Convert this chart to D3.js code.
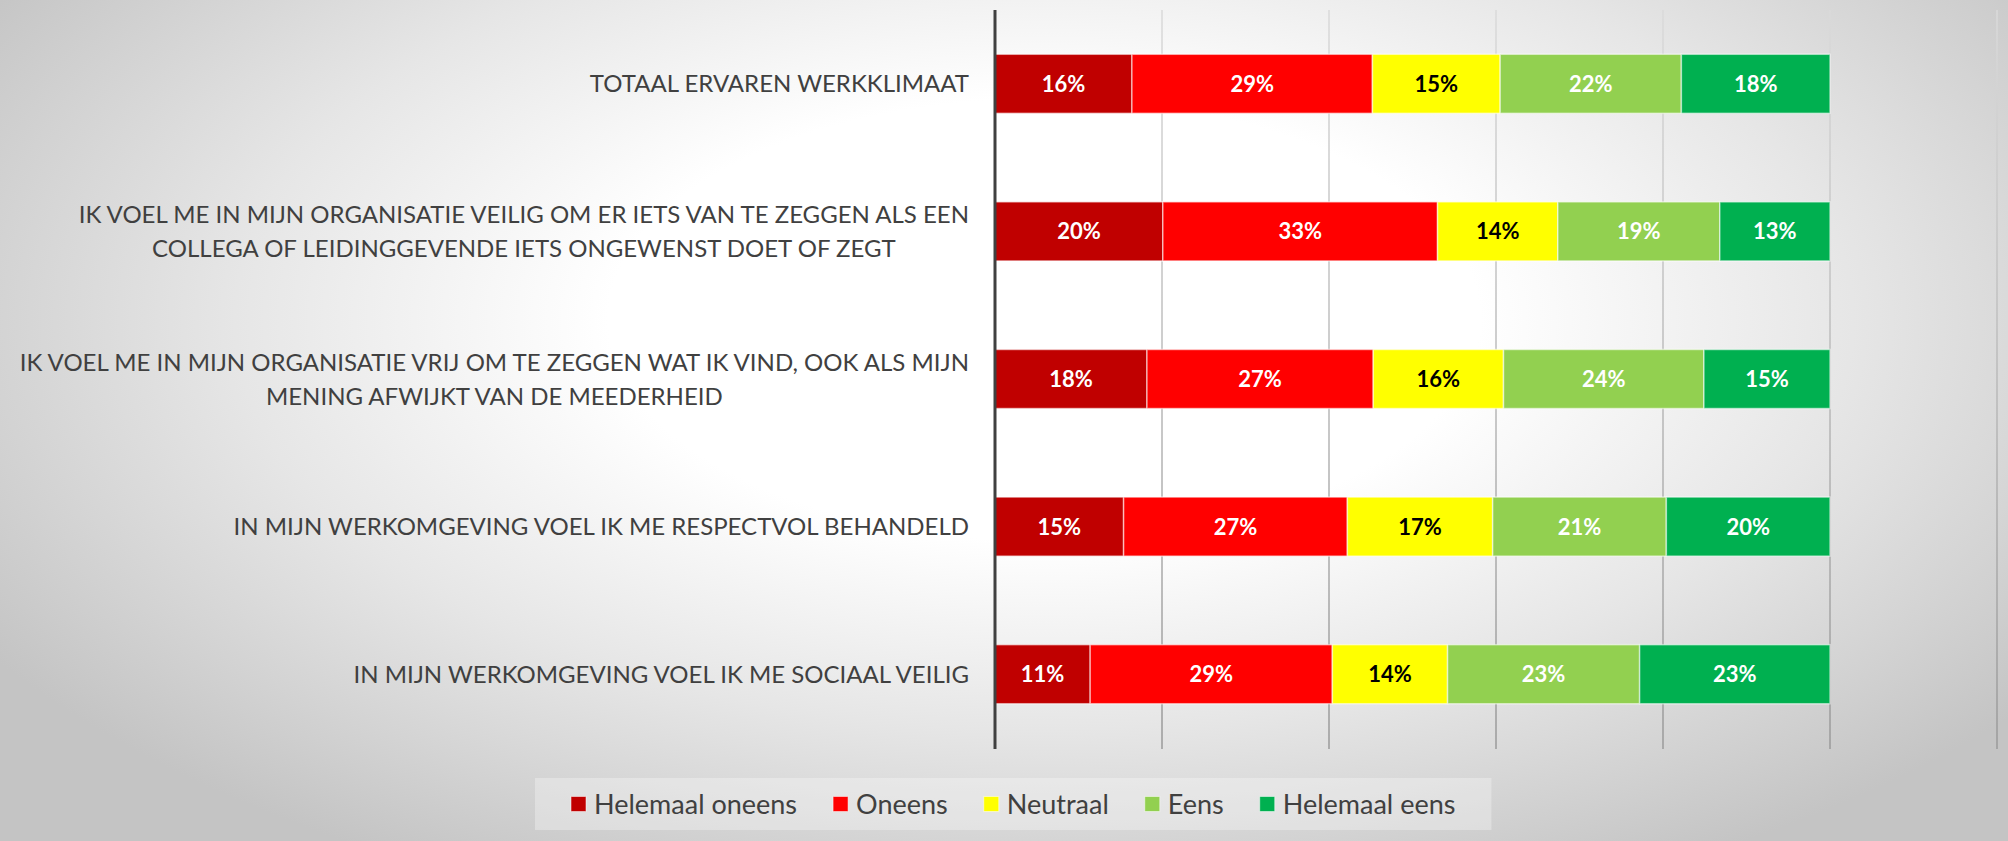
<!DOCTYPE html>
<html>
<head>
<meta charset="utf-8">
<script src="https://cdn.jsdelivr.net/npm/d3@7/dist/d3.min.js"></script>
<style>
  html, body { margin: 0; padding: 0; }
  body {
    width: 2008px; height: 841px; overflow: hidden;
    background: radial-gradient(ellipse 62% 75% at 52% 38%, #ffffff 35%, #e6e6e6 65%, #c4c4c4 100%);
    font-family: Lato, "Open Sans", sans-serif;
  }
  svg { display: block; }
</style>
</head>
<body>
<svg id="chart" width="2008" height="841"></svg>
<script>
// categories, one entry per line of the label
var categories = [
	["TOTAAL ERVAREN WERKKLIMAAT"],
	["IK VOEL ME IN MIJN ORGANISATIE VEILIG OM ER IETS VAN TE ZEGGEN ALS EEN",
	 "COLLEGA OF LEIDINGGEVENDE IETS ONGEWENST DOET OF ZEGT"],
	["IK VOEL ME IN MIJN ORGANISATIE VRIJ OM TE ZEGGEN WAT IK VIND, OOK ALS MIJN",
	 "MENING AFWIJKT VAN DE MEEDERHEID"],
	["IN MIJN WERKOMGEVING VOEL IK ME RESPECTVOL BEHANDELD"],
	["IN MIJN WERKOMGEVING VOEL IK ME SOCIAAL VEILIG"]
];

var seriesNames = ["Helemaal oneens", "Oneens", "Neutraal", "Eens", "Helemaal eens"];

// percentages per category (same order as categories)
var helemaalOneens = [16.4, 20.1, 18.2, 15.4, 11.4];
var oneens         = [28.8, 32.9, 27.1, 26.8, 29.0];
var neutraal       = [15.3, 14.4, 15.6, 17.4, 13.8];
var eens           = [21.7, 19.4, 24.0, 20.8, 23.0];
var helemaalEens   = [17.8, 13.2, 15.1, 19.6, 22.8];

var xTicks = [0, 20, 40, 60, 80, 100, 120];

var seriesColors = ["#C00000", "#FF0000", "#FFFF00", "#92D050", "#00B050"];
var labelColors = ["#ffffff", "#ffffff", "#000000", "#ffffff", "#ffffff"];

var seriesValues = [helemaalOneens, oneens, neutraal, eens, helemaalEens];

var rows = categories.map(function(c, i) {
	var r = { idx: i };
	seriesNames.forEach(function(s, j) { r[s] = seriesValues[j][i]; });
	return r;
});

var svg = d3.select("#chart");

var x = d3.scaleLinear()
	.domain([0, 120])
	.range([995, 1997]);

var y = d3.scaleBand()
	.domain(d3.range(categories.length))
	.range([10, 748])
	.paddingInner(0.6)
	.paddingOuter(0.3);

// gradient for gridlines (lighter at the top)
var defs = svg.append("defs");
var gg = defs.append("linearGradient")
	.attr("id", "gridGrad")
	.attr("gradientUnits", "userSpaceOnUse")
	.attr("x1", 0).attr("y1", 10)
	.attr("x2", 0).attr("y2", 749);
gg.append("stop").attr("offset", "0%").attr("stop-color", "#dadada");
gg.append("stop").attr("offset", "100%").attr("stop-color", "#9a9a9a");

// Gridlines
svg.append("g")
	.attr("class", "grid")
	.selectAll("rect")
	.data(xTicks.slice(1))
	.enter()
	.append("rect")
	.attr("x", (d) => x(d) - 0.75)
	.attr("y", 10)
	.attr("width", 1.5)
	.attr("height", 739)
	.attr("fill", "url(#gridGrad)");

// Bars
var stack = d3.stack().keys(seriesNames);
var layers = stack(rows);

var layer = svg.append("g")
	.attr("class", "bars")
	.selectAll("g")
	.data(layers)
	.enter()
	.append("g")
	.attr("fill", (d, i) => seriesColors[i]);

layer.selectAll("rect")
	.data((d) => d)
	.enter()
	.append("rect")
	.attr("x", (d) => x(d[0]))
	.attr("y", (d) => y(d.data.idx))
	.attr("width", (d) => x(d[1]) - x(d[0]))
	.attr("height", y.bandwidth())
	.attr("stroke", "#ffffff")
	.attr("stroke-opacity", 0.55)
	.attr("stroke-width", 1.5);

// Value labels
layer.each(function(L, i) {
	d3.select(this).selectAll("text")
		.data(L)
		.enter()
		.append("text")
		.attr("x", (d) => (x(d[0]) + x(d[1])) / 2)
		.attr("y", (d) => y(d.data.idx) + y.bandwidth() / 2)
		.attr("text-anchor", "middle")
		.attr("dy", "0.36em")
		.attr("fill", labelColors[i])
		.style("font-size", "22px")
		.style("font-weight", "bold")
		.text((d) => Math.round(d[1] - d[0]) + "%");
});

// Axis line
svg.append("line")
	.attr("x1", x(0)).attr("x2", x(0))
	.attr("y1", 10).attr("y2", 749)
	.attr("stroke", "#404040")
	.attr("stroke-width", 3);

// Category labels, right-aligned block, lines centered within it
var labelRight = 969;
var lineH = 34;
var catG = svg.append("g").attr("class", "categories");

categories.forEach(function(lines, i) {
	var g = catG.append("g")
		.attr("transform", "translate(" + labelRight + "," + (y(i) + y.bandwidth() / 2) + ")");
	var texts = g.selectAll("text")
		.data(lines)
		.enter()
		.append("text")
		.attr("y", (d, k) => (k - (lines.length - 1) / 2) * lineH)
		.attr("dy", "0.36em")
		.attr("text-anchor", "middle")
		.attr("fill", "#404040")
		.style("font-size", "24px")
		.text((d) => d);
	var maxW = 0;
	texts.each(function() { maxW = Math.max(maxW, this.getComputedTextLength()); });
	texts.attr("x", -maxW / 2);
});

// Legend
var legendY = 804;
var legend = svg.append("g").attr("class", "legend");
var legendBg = legend.append("rect")
	.attr("fill", "#ffffff")
	.attr("fill-opacity", 0.3);

var items = legend.selectAll("g.item")
	.data(seriesNames)
	.enter()
	.append("g")
	.attr("class", "item");

items.append("rect")
	.attr("width", 15)
	.attr("height", 15)
	.attr("y", legendY - 7.5)
	.attr("fill", (d, i) => seriesColors[i])
	.attr("stroke", "#ffffff")
	.attr("stroke-opacity", 0.5);

items.append("text")
	.attr("dy", "0.36em")
	.attr("y", legendY)
	.attr("fill", "#404040")
	.style("font-size", "27px")
	.text((d) => d);

var cursor = 571;
items.each(function() {
	var it = d3.select(this);
	var t = it.select("text");
	var w = t.node().getComputedTextLength();
	it.select("rect").attr("x", cursor);
	t.attr("x", cursor + 23);
	cursor += 23 + w + 36;
});

legendBg
	.attr("x", 535)
	.attr("y", legendY - 26)
	.attr("width", cursor - 535)
	.attr("height", 52);
</script>
</body>
</html>
